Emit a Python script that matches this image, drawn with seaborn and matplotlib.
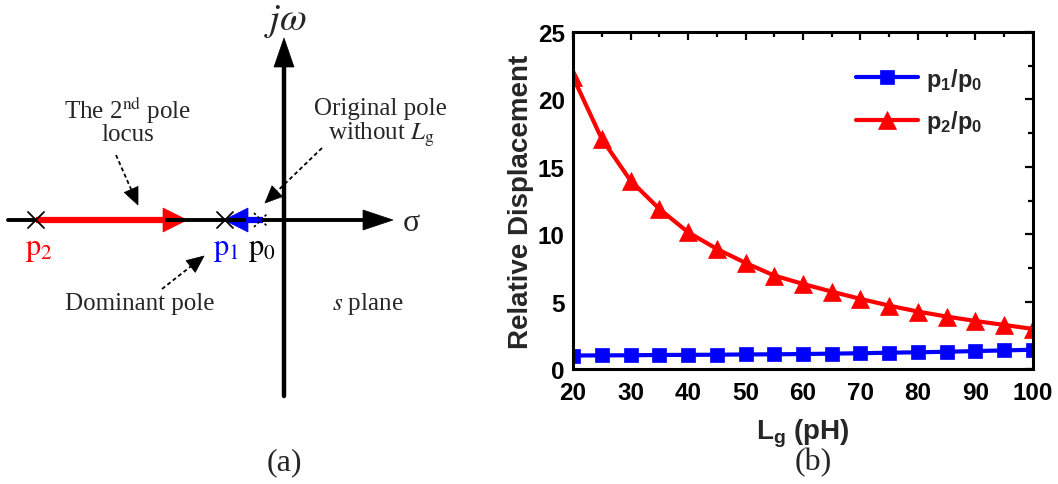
import numpy as np
import pandas as pd
import matplotlib
matplotlib.use("Agg")
import matplotlib.pyplot as plt
import seaborn as sns
from matplotlib.patches import Polygon
from matplotlib.ticker import MultipleLocator

# ---------------- data (panel b) ----------------
Lg_pH = [20, 25, 30, 35, 40, 45, 50, 55, 60, 65, 70, 75, 80, 85, 90, 95, 100]
p1_over_p0 = [1.00, 1.01, 1.02, 1.04, 1.05, 1.06, 1.08, 1.09, 1.11, 1.14,
              1.17, 1.21, 1.24, 1.28, 1.33, 1.38, 1.43]
p2_over_p0 = [21.66, 17.07, 13.98, 11.88, 10.15, 8.91, 7.87, 6.93, 6.31, 5.74,
              5.20, 4.70, 4.26, 3.89, 3.56, 3.27, 2.97]
x_ticks = [20, 30, 40, 50, 60, 70, 80, 90, 100]
y_ticks = [0, 5, 10, 15, 20, 25]
series_labels = [r"$\mathbf{p_1/p_0}$", r"$\mathbf{p_2/p_0}$"]

sns.set_style("white")
plt.rcParams["font.family"] = ["Liberation Sans", "DejaVu Sans"]
plt.rcParams["mathtext.fontset"] = "custom"
plt.rcParams["mathtext.rm"] = "Liberation Sans:bold"
plt.rcParams["mathtext.bf"] = "Liberation Sans:bold"
plt.rcParams["mathtext.it"] = "Liberation Sans:bold"

fig = plt.figure(figsize=(10.58, 4.85), dpi=100)

# ---------------- panel (a): schematic pole locus ----------------
ax_a = fig.add_axes([0, 0, 1, 1])
ax_a.set_xlim(0, 1058)
ax_a.set_ylim(485, 0)
ax_a.axis("off")

serif = dict(family=["Liberation Serif", "DejaVu Serif"], math_fontfamily="stix")


def head(ax, pts, color):
    ax.add_patch(Polygon(pts, closed=True, facecolor=color, edgecolor=color, lw=0.5))


def dashed_arrow(ax, start, tip, head_len=17, head_w=15):
    sx, sy = start
    tx, ty = tip
    d = np.hypot(tx - sx, ty - sy)
    ux, uy = (tx - sx) / d, (ty - sy) / d
    bx, by = tx - ux * head_len, ty - uy * head_len
    ax.plot([sx, bx], [sy, by], ls=(0, (2.2, 1.6)), color="k", lw=1.3)
    px, py = -uy, ux
    head(ax, [(tx, ty), (bx + px * head_w / 2, by + py * head_w / 2),
              (bx - px * head_w / 2, by - py * head_w / 2)], "k")


yax = 221
# sigma axis
ax_a.plot([8, 364], [yax, yax], color="k", lw=2.8, solid_capstyle="round")
head(ax_a, [(363, 211), (393, yax), (363, 231)], "k")
# j omega axis
ax_a.plot([284, 284], [397, 66], color="k", lw=3.2, solid_capstyle="round")
head(ax_a, [(274, 68), (284, 39), (294, 68)], "k")

# red locus of 2nd pole
ax_a.plot([36, 165], [yax, yax], color="#ff0000", lw=4.5, solid_capstyle="butt")
head(ax_a, [(163, 209), (187, yax), (163, 233)], "#ff0000")
# blue locus of dominant pole
ax_a.plot([263, 246], [yax, yax], color="#0000ff", lw=4.5, solid_capstyle="butt")
head(ax_a, [(248, 209), (224, yax), (248, 233)], "#0000ff")

# pole crosses
for cx in (36, 225):
    ax_a.plot([cx - 8, cx + 8], [yax - 8, yax + 8], color="k", lw=1.3)
    ax_a.plot([cx - 8, cx + 8], [yax + 8, yax - 8], color="k", lw=1.3)
cx = 261
ax_a.plot([cx - 7, cx + 7], [yax - 7, yax + 7], color="k", lw=1.2, ls=(0, (1.5, 1.5)))
ax_a.plot([cx - 7, cx + 7], [yax + 7, yax - 7], color="k", lw=1.2, ls=(0, (1.5, 1.5)))

# labels
ax_a.text(39, 250, r"$\mathrm{p}_2$", color="#ff0000", fontsize=22, ha="center", va="center", **serif)
ax_a.text(226, 249, r"$\mathrm{p}_1$", color="#0000ff", fontsize=22, ha="center", va="center", **serif)
ax_a.text(262, 249, r"$\mathrm{p}_0$", color="k", fontsize=22, ha="center", va="center", **serif)
ax_a.text(286, 21, r"$j\omega$", fontsize=28, ha="center", va="center", **serif)
ax_a.text(411, 224, "σ", fontsize=23, ha="center", va="center", **serif)

ax_a.text(128, 110, r"The 2$^{\mathrm{nd}}$ pole", fontsize=18, ha="center", va="center", **serif)
ax_a.text(128, 135, "locus", fontsize=18, ha="center", va="center", **serif)
ax_a.text(380, 109, "Original pole", fontsize=18, ha="center", va="center", **serif)
ax_a.text(381, 135, r"without $L_\mathrm{g}$", fontsize=18, ha="center", va="center", **serif)
ax_a.text(140, 304, "Dominant pole", fontsize=18, ha="center", va="center", **serif)
ax_a.text(368, 304, r"$s$ plane", fontsize=18, ha="center", va="center", **serif)

dashed_arrow(ax_a, (116, 156), (138, 206))
dashed_arrow(ax_a, (322, 149), (265, 204))
dashed_arrow(ax_a, (162, 290), (204, 257))

ax_a.text(284, 463, "(a)", fontsize=23, ha="center", va="center", **serif)
ax_a.text(813, 463, "(b)", fontsize=23, ha="center", va="center", **serif)

# ---------------- panel (b): relative displacement ----------------
ax = fig.add_axes([573 / 1058, 1 - 370 / 485, 460 / 1058, 337 / 485])
df = pd.DataFrame({"Lg": Lg_pH, "p1": p1_over_p0, "p2": p2_over_p0})
sns.lineplot(data=df, x="Lg", y="p1", ax=ax, color="#0000ff", lw=3.0,
             marker="s", markersize=9.5, markeredgewidth=0.5, markeredgecolor="#0000ff",
             label=series_labels[0])
sns.lineplot(data=df, x="Lg", y="p2", ax=ax, color="#ff0000", lw=3.0,
             marker="^", markersize=13, markeredgewidth=0.5, markeredgecolor="#ff0000",
             label=series_labels[1])

ax.set_xlim(20, 100)
ax.set_ylim(0, 25)
ax.set_xticks(x_ticks)
ax.set_yticks(y_ticks)
ax.xaxis.set_minor_locator(MultipleLocator(5))
ax.yaxis.set_minor_locator(MultipleLocator(2.5))
ax.tick_params(which="both", direction="in", top=True, right=True, width=1.6, colors="k")
ax.tick_params(which="major", length=5.5, labelsize=17.5)
ax.tick_params(axis="x", which="major", pad=9)
ax.tick_params(axis="y", which="major", pad=6)
ax.tick_params(which="minor", length=3.5)
for lab in ax.get_xticklabels() + ax.get_yticklabels():
    lab.set_fontweight("bold")
for sp in ax.spines.values():
    sp.set_linewidth(2.2)
    sp.set_color("k")
    sp.set_visible(True)

ax.set_xlabel(r"$\mathbf{L_g}$ (pH)", fontsize=20, fontweight="bold", labelpad=9)
ax.set_ylabel("Relative Displacement", fontsize=20, fontweight="bold", labelpad=3)

ax.legend(loc="upper left", bbox_to_anchor=(0.59, 0.935), frameon=False, fontsize=17,
          handlelength=2.6, handletextpad=0.35, labelspacing=0.64, borderpad=0,
          numpoints=1)

fig.savefig("out.png", dpi=100)
